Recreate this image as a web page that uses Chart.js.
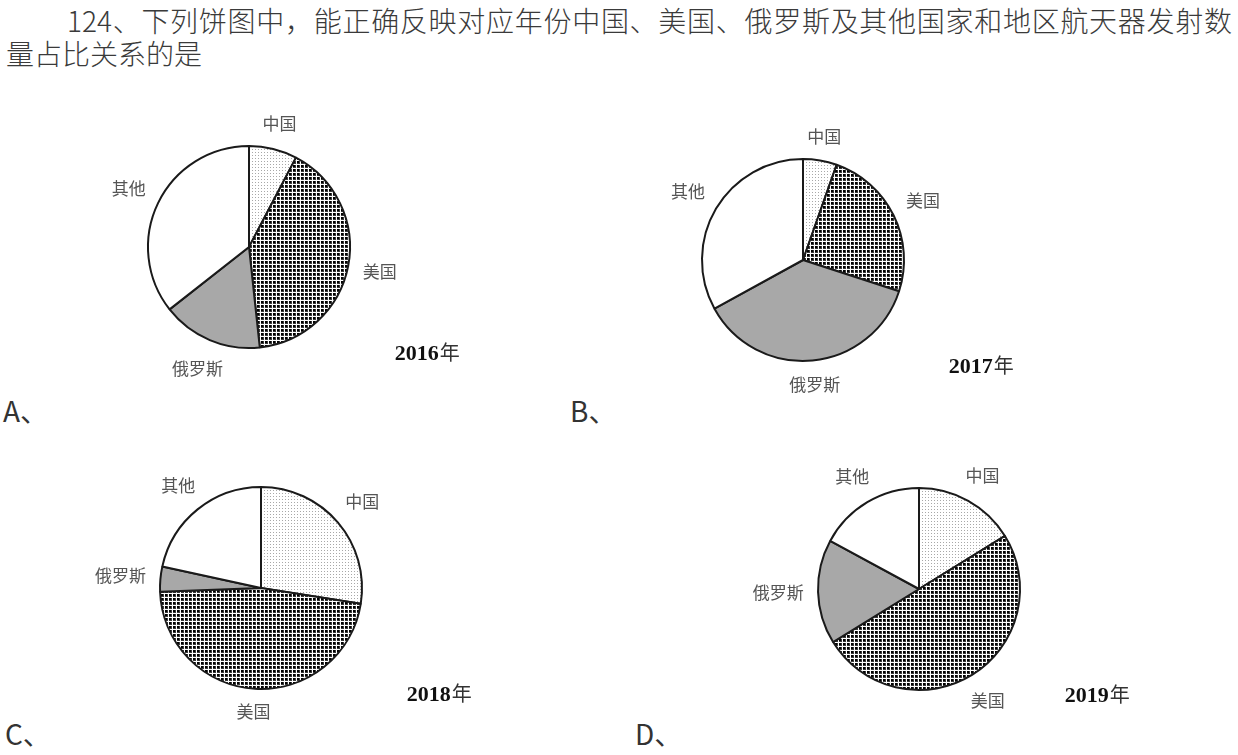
<!DOCTYPE html>
<html lang="zh">
<head>
<meta charset="utf-8">
<title>航天器发射数量占比</title>
<script src="https://cdn.jsdelivr.net/npm/chart.js@4.4.1/dist/chart.umd.min.js"></script>
<style>
  html, body { margin: 0; padding: 0; background: #fff; }
  body {
    width: 1238px; height: 755px; position: relative; overflow: hidden;
    font-family: "Noto Sans CJK SC", "Noto Sans", sans-serif; color: #3a3a3a;
  }
  .q { position: absolute; left: 6px; font-size: 28px; line-height: 33px; font-weight: 300; }
  #q1 { top: 4px; padding-left: 61px; width: 1165px; text-align: justify; text-align-last: justify; }
  #q2 { top: 37px; }
  .opt { position: absolute; font-size: 28px; line-height: 28px; color: #333; }
  .pie { position: absolute; }
</style>
</head>
<body>
<div class="q" id="q1">124、下列饼图中，能正确反映对应年份中国、美国、俄罗斯及其他国家和地区航天器发射数</div>
<div class="q" id="q2">量占比关系的是</div>

<div class="opt" id="optA" style="left:3px;top:396px"></div>
<div class="opt" id="optB" style="left:570px;top:396px"></div>
<div class="opt" id="optC" style="left:5px;top:719px"></div>
<div class="opt" id="optD" style="left:635px;top:719px"></div>

<canvas class="pie" id="pieA" width="440" height="300" style="left:29px;top:97px"></canvas>
<canvas class="pie" id="pieB" width="440" height="300" style="left:583px;top:110px"></canvas>
<canvas class="pie" id="pieC" width="440" height="300" style="left:41px;top:438px"></canvas>
<canvas class="pie" id="pieD" width="440" height="300" style="left:699px;top:439px"></canvas>

<script>
// ── Data ────────────────────────────────────────────────────────────────────
const categories = ['中国', '美国', '俄罗斯', '其他'];
const years = ['2016年', '2017年', '2018年', '2019年'];
const optionLetters = ['A、', 'B、', 'C、', 'D、'];

// share of launches (%), order follows categories
const share2016 = [7.7, 40.6, 16.1, 35.6];
const share2017 = [5.4, 24.6, 37.0, 33.0];
const share2018 = [27.5, 46.9, 4.0, 21.6];
const share2019 = [16.2, 50.0, 16.7, 17.1];

const allShares = [share2016, share2017, share2018, share2019];
const canvasIds = ['pieA', 'pieB', 'pieC', 'pieD'];
const optIds = ['optA', 'optB', 'optC', 'optD'];

// ── Fill patterns ───────────────────────────────────────────────────────────
function makeTile(size, draw) {
    const c = document.createElement('canvas');
    c.width = size; c.height = size;
    const g = c.getContext('2d');
    g.fillStyle = '#fff';
    g.fillRect(0, 0, size, size);
    draw(g);
    return document.createElement('canvas').getContext('2d').createPattern(c, 'repeat');
}

// light dots for China
const dotFill = makeTile(3, g => {
    g.fillStyle = '#a8a8a8';
    g.fillRect(1, 1, 1, 1);
});

// dark check for USA
const checkFill = makeTile(4, g => {
    g.fillStyle = '#3a3a3a';
    g.fillRect(0, 0, 3, 3);
    g.fillStyle = '#000';
    g.fillRect(0, 0, 2, 2);
});

const sliceFills = [dotFill, checkFill, '#a8a8a8', '#ffffff'];

// ── Labels plugin ───────────────────────────────────────────────────────────
const pieLabels = {
    id: 'pieLabels',
    afterDraw(chart, args, opts) {
        const ctx = chart.ctx;
        const arcs = chart.getDatasetMeta(0).data;
        ctx.save();

        // category names outside each slice
        ctx.font = '17px "Noto Sans CJK SC"';
        ctx.fillStyle = '#555';
        ctx.textAlign = 'center';
        ctx.textBaseline = 'middle';
        arcs.forEach((arc, i) => {
            const p = arc.getProps(['x', 'y', 'startAngle', 'endAngle', 'outerRadius']);
            const mid = (p.startAngle + p.endAngle) / 2;
            const text = chart.data.labels[i];
            const w = ctx.measureText(text).width;
            const d = p.outerRadius + 14 + Math.abs(Math.cos(mid)) * w / 2 + Math.abs(Math.sin(mid)) * 8;
            ctx.fillText(text, p.x + Math.cos(mid) * d, p.y + Math.sin(mid) * d);
        });

        // year caption, bottom right
        const c = arcs[0].getProps(['x', 'y', 'outerRadius']);
        const m = opts.year.match(/^(\d+)(.*)$/);
        ctx.textAlign = 'left';
        ctx.textBaseline = 'alphabetic';
        ctx.font = 'bold 22px "Liberation Serif"';
        const w1 = ctx.measureText(m[1]).width;
        ctx.font = '20px "Noto Sans CJK SC"';
        const w2 = ctx.measureText(m[2]).width;
        const x0 = c.x + c.outerRadius * 1.76 - (w1 + w2) / 2;
        const yb = c.y + c.outerRadius * 1.04 + 8;
        ctx.font = 'bold 22px "Liberation Serif"';
        ctx.fillStyle = '#111';
        ctx.fillText(m[1], x0, yb);
        ctx.font = '20px "Noto Sans CJK SC"';
        ctx.fillStyle = '#333';
        ctx.fillText(m[2], x0 + w1 + 1, yb);

        ctx.restore();
    }
};

// ── Build charts ────────────────────────────────────────────────────────────
function renderPie(canvasId, values, year) {
    const ctx = document.getElementById(canvasId).getContext('2d');
    return new Chart(ctx, {
        type: 'pie',
        data: {
            labels: categories,
            datasets: [{
                data: values,
                backgroundColor: sliceFills,
                borderColor: '#1a1a1a',
                borderWidth: 2,
                radius: 101
            }]
        },
        options: {
            responsive: false,
            animation: false,
            events: [],
            layout: { padding: 0 },
            plugins: {
                legend: { display: false },
                tooltip: { enabled: false },
                pieLabels: { year: year }
            }
        },
        plugins: [pieLabels]
    });
}

canvasIds.forEach((id, i) => {
    renderPie(id, allShares[i], years[i]);
    document.getElementById(optIds[i]).textContent = optionLetters[i];
});
</script>
</body>
</html>
